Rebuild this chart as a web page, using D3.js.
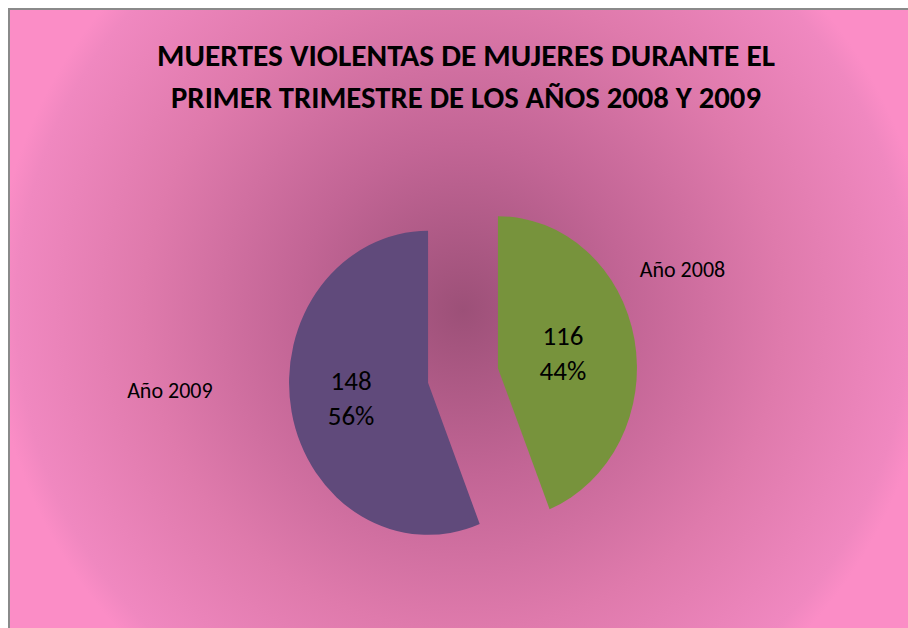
<!DOCTYPE html>
<html>
<head>
<meta charset="utf-8">
<script src="https://cdn.jsdelivr.net/npm/d3@7"></script>
<style>
  html, body { margin: 0; padding: 0; background: #fff; }
  svg { display: block; }
  text { font-family: Carlito, Calibri, Lato, sans-serif; fill: #000; }
</style>
</head>
<body>
<div id="chart"></div>
<script>
// data
var years = ["Año 2008", "Año 2009"];
var deaths = [116, 148];
var sliceColors = ["#77933c", "#604a7b"];
var titleLines = ["MUERTES VIOLENTAS DE MUJERES DURANTE EL", "PRIMER TRIMESTRE DE LOS AÑOS 2008 Y 2009"];

var width = 908, height = 628;

var svg = d3.select("#chart")
  .append("svg")
    .attr("width", width)
    .attr("height", height);

// background gradient
var defs = svg.append("defs");
var grad = defs.append("radialGradient")
  .attr("id", "bg")
  .attr("gradientUnits", "userSpaceOnUse")
  .attr("cx", 463).attr("cy", 310).attr("r", 470)
  .attr("fx", 463).attr("fy", 310);
[[0, "#9c5078"], [0.35, "#c26595"], [0.68, "#df7aac"], [0.95, "#f088c0"], [1, "#fb8dc6"]]
  .forEach(function(s) {
    grad.append("stop").attr("offset", s[0]).attr("stop-color", s[1]);
  });

svg.append("rect")
  .attr("x", 9).attr("y", 9)
  .attr("width", 930).attr("height", 650)
  .attr("fill", "url(#bg)")
  .attr("stroke", "#8a8a8a")
  .attr("stroke-width", 2);

// title
var titleWidths = [618, 590];
svg.selectAll(".title")
  .data(titleLines)
  .enter()
  .append("text")
    .attr("class", "title")
    .attr("x", 466)
    .attr("y", function(d, i) { return 66 + i * 42; })
    .attr("text-anchor", "middle")
    .attr("textLength", function(d, i) { return titleWidths[i]; })
    .attr("lengthAdjust", "spacingAndGlyphs")
    .style("font-size", "30px")
    .style("font-weight", "bold")
    .text(function(d) { return d; });

// pie
var cx = 463, cy = 375.5;
var rx = 139, ry = 152, ky = ry / rx;
var explode = 0.256 * rx;
var total = d3.sum(deaths);

var pie = d3.pie().sort(null).value(function(d) { return d; });
var arcs = pie(deaths);
var arc = d3.arc().innerRadius(0).outerRadius(rx);

function mid(d) { return (d.startAngle + d.endAngle) / 2; }
function sliceCenter(d) {
  var a = mid(d);
  return [cx + Math.sin(a) * explode, cy - Math.cos(a) * explode * ky];
}

var pieG = svg.append("g");
pieG.selectAll("path")
  .data(arcs)
  .enter()
  .append("path")
    .attr("d", arc)
    .attr("fill", function(d, i) { return sliceColors[i]; })
    .attr("transform", function(d) {
      var c = sliceCenter(d);
      return "translate(" + c[0] + "," + c[1] + ") scale(1," + ky + ")";
    });

// value labels
var labelK = 0.52;
arcs.forEach(function(d, i) {
  var c = sliceCenter(d), a = mid(d);
  var x = c[0] + Math.sin(a) * rx * labelK - 6;
  var y = c[1] - Math.cos(a) * ry * labelK;
  var t = svg.append("text")
    .attr("x", x).attr("y", y)
    .attr("text-anchor", "middle")
    .style("font-size", "27px");
  t.append("tspan").attr("x", x).attr("dy", "-0.3em").text(d.value);
  t.append("tspan").attr("x", x).attr("dy", "1.3em")
    .text(d3.format(".0%")(d.value / total));
});

// category labels (outside, best-fit style)
var catOffsets = [[1.02, -0.6, "start"], [-1.55, 0.1, "end"]];
arcs.forEach(function(d, i) {
  var c = sliceCenter(d);
  svg.append("text")
    .attr("x", c[0] + catOffsets[i][0] * rx)
    .attr("y", c[1] + catOffsets[i][1] * ry)
    .attr("text-anchor", catOffsets[i][2])
    .style("font-size", "22px")
    .text(years[i]);
});
</script>
</body>
</html>
